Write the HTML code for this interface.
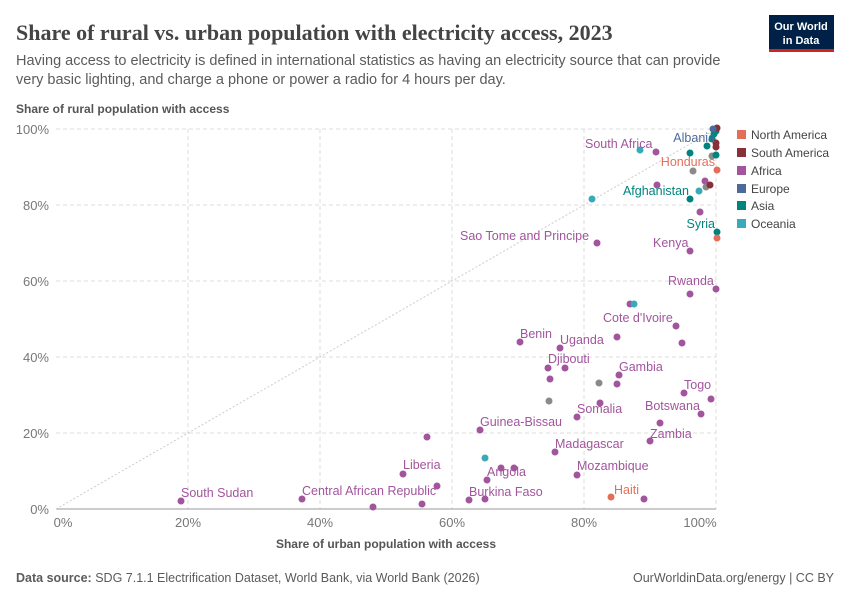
<!DOCTYPE html>
<html><head><meta charset="utf-8"><style>
body{margin:0;background:#fff;font-family:"Liberation Sans",sans-serif}
</style></head><body>
<svg width="850" height="600" xmlns="http://www.w3.org/2000/svg" font-family="Liberation Sans, sans-serif">
<rect width="850" height="600" fill="#fff"/>
<text x="16" y="40" font-family="Liberation Serif, serif" font-size="22" font-weight="bold" fill="#444">Share of rural vs. urban population with electricity access, 2023</text>
<text x="16" y="65" font-size="14.5" fill="#5b5b5b">Having access to electricity is defined in international statistics as having an electricity source that can provide</text>
<text x="16" y="84" font-size="14.5" fill="#5b5b5b">very basic lighting, and charge a phone or power a radio for 4 hours per day.</text>
<rect x="769" y="15" width="65" height="37" fill="#002147"/>
<rect x="769" y="49" width="65" height="3" fill="#ce261e"/>
<text x="801" y="30" font-size="11" font-weight="bold" fill="#fff" text-anchor="middle">Our World</text>
<text x="801" y="44" font-size="11" font-weight="bold" fill="#fff" text-anchor="middle">in Data</text>
<text x="16" y="113" font-size="12" font-weight="bold" fill="#555">Share of rural population with access</text>
<g stroke="#ddd" stroke-dasharray="4,3" stroke-width="1">
<line x1="56" y1="129" x2="716" y2="129"/><line x1="56" y1="205" x2="716" y2="205"/><line x1="56" y1="281" x2="716" y2="281"/><line x1="56" y1="357" x2="716" y2="357"/><line x1="56" y1="433" x2="716" y2="433"/>
<line x1="188" y1="129" x2="188" y2="509"/><line x1="320" y1="129" x2="320" y2="509"/><line x1="452" y1="129" x2="452" y2="509"/><line x1="584" y1="129" x2="584" y2="509"/><line x1="716" y1="129" x2="716" y2="509"/>
</g>
<line x1="56" y1="509" x2="716" y2="509" stroke="#999"/>
<line x1="56" y1="509" x2="716" y2="129" stroke="#ccc" stroke-dasharray="2,2"/>
<g font-size="13" fill="#777" text-anchor="end">
<text x="49" y="134">100%</text><text x="49" y="210">80%</text><text x="49" y="286">60%</text><text x="49" y="362">40%</text><text x="49" y="438">20%</text><text x="49" y="514">0%</text>
</g>
<g font-size="13" fill="#777" text-anchor="middle">
<text x="63" y="527">0%</text><text x="188" y="527">20%</text><text x="320" y="527">40%</text><text x="452" y="527">60%</text><text x="584" y="527">80%</text><text x="700" y="527">100%</text>
</g>
<text x="386" y="548" font-size="12" font-weight="bold" fill="#555" text-anchor="middle">Share of urban population with access</text>
<g fill="#a2559c">
<circle cx="181" cy="501" r="3.5"/><circle cx="302" cy="499" r="3.5"/><circle cx="373" cy="507" r="3.5"/><circle cx="422" cy="504" r="3.5"/><circle cx="427" cy="437" r="3.5"/><circle cx="403" cy="474" r="3.5"/><circle cx="437" cy="486" r="3.5"/><circle cx="469" cy="500" r="3.5"/><circle cx="485" cy="499" r="3.5"/><circle cx="487" cy="480" r="3.5"/><circle cx="501" cy="468" r="3.5"/><circle cx="514" cy="468" r="3.5"/><circle cx="480" cy="430" r="3.5"/><circle cx="555" cy="452" r="3.5"/><circle cx="577" cy="475" r="3.5"/><circle cx="644" cy="499" r="3.5"/><circle cx="577" cy="417" r="3.5"/><circle cx="600" cy="403" r="3.5"/><circle cx="548" cy="368" r="3.5"/><circle cx="565" cy="368" r="3.5"/><circle cx="550" cy="379" r="3.5"/><circle cx="619" cy="375" r="3.5"/><circle cx="617" cy="384" r="3.5"/><circle cx="520" cy="342" r="3.5"/><circle cx="560" cy="348" r="3.5"/><circle cx="617" cy="337" r="3.5"/><circle cx="676" cy="326" r="3.5"/><circle cx="682" cy="343" r="3.5"/><circle cx="630" cy="304" r="3.5"/><circle cx="690" cy="294" r="3.5"/><circle cx="716" cy="289" r="3.5"/><circle cx="684" cy="393" r="3.5"/><circle cx="711" cy="399" r="3.5"/><circle cx="701" cy="414" r="3.5"/><circle cx="660" cy="423" r="3.5"/><circle cx="650" cy="441" r="3.5"/><circle cx="597" cy="243" r="3.5"/><circle cx="690" cy="251" r="3.5"/><circle cx="700" cy="212" r="3.5"/><circle cx="705" cy="181" r="3.5"/><circle cx="657" cy="185" r="3.5"/><circle cx="656" cy="152" r="3.5"/>
</g>
<g fill="#8a8a8a"><circle cx="549" cy="401" r="3.5"/><circle cx="599" cy="383" r="3.5"/><circle cx="706" cy="187" r="3.5"/><circle cx="693" cy="171" r="3.5"/><circle cx="712" cy="156" r="3.5"/></g>
<g fill="#38aaba"><circle cx="485" cy="458" r="3.5"/><circle cx="634" cy="304" r="3.5"/><circle cx="699" cy="191" r="3.5"/><circle cx="592" cy="199" r="3.5"/><circle cx="640" cy="150" r="3.5"/></g>
<g fill="#00847e"><circle cx="717" cy="232" r="3.5"/><circle cx="690" cy="199" r="3.5"/><circle cx="690" cy="153" r="3.5"/><circle cx="707" cy="146" r="3.5"/><circle cx="716" cy="155" r="3.5"/><circle cx="712" cy="139" r="3.5"/><circle cx="716" cy="131" r="3.5"/><circle cx="714" cy="134" r="3.5"/></g>
<g fill="#883039"><circle cx="710" cy="185" r="3.5"/><circle cx="716" cy="147" r="3.5"/><circle cx="716" cy="143" r="3.5"/><circle cx="717" cy="128" r="3.5"/></g>
<g fill="#e56e5a"><circle cx="611" cy="497" r="3.5"/><circle cx="717" cy="238" r="3.5"/><circle cx="717" cy="170" r="3.5"/></g>
<circle cx="713" cy="129" r="3.5" fill="#4c6a9c"/>
<g font-size="12.5" fill="#a2559c">
<text x="181" y="497">South Sudan</text><text x="302" y="495">Central African Republic</text><text x="403" y="469">Liberia</text><text x="469" y="496">Burkina Faso</text><text x="487" y="476">Angola</text><text x="480" y="426">Guinea-Bissau</text><text x="555" y="448">Madagascar</text><text x="577" y="470">Mozambique</text><text x="577" y="413">Somalia</text><text x="548" y="363">Djibouti</text><text x="619" y="371">Gambia</text><text x="520" y="338">Benin</text><text x="560" y="344">Uganda</text><text x="603" y="322">Cote d'Ivoire</text><text x="668" y="285">Rwanda</text><text x="684" y="389">Togo</text><text x="645" y="410">Botswana</text><text x="650" y="438">Zambia</text><text x="460" y="240">Sao Tome and Principe</text><text x="653" y="247">Kenya</text><text x="585" y="148">South Africa</text>
</g>
<g font-size="12.5" text-anchor="end">
<text x="689" y="195" fill="#00847e">Afghanistan</text><text x="715" y="228" fill="#00847e">Syria</text><text x="715" y="166" fill="#e56e5a">Honduras</text><text x="715" y="142" fill="#4c6a9c">Albania</text><text x="639" y="494" fill="#e56e5a">Haiti</text>
</g>
<g font-size="12" fill="#444">
<rect x="737" y="130" width="9" height="9" fill="#e56e5a"/><text x="751" y="139">North America</text>
<rect x="737" y="148" width="9" height="9" fill="#883039"/><text x="751" y="157">South America</text>
<rect x="737" y="166" width="9" height="9" fill="#a2559c"/><text x="751" y="175">Africa</text>
<rect x="737" y="184" width="9" height="9" fill="#4c6a9c"/><text x="751" y="193">Europe</text>
<rect x="737" y="201" width="9" height="9" fill="#00847e"/><text x="751" y="210">Asia</text>
<rect x="737" y="219" width="9" height="9" fill="#38aaba"/><text x="751" y="228">Oceania</text>
</g>
<text x="16" y="582" font-size="12.5" fill="#5b5b5b"><tspan font-weight="bold">Data source:</tspan> SDG 7.1.1 Electrification Dataset, World Bank, via World Bank (2026)</text>
<text x="834" y="582" font-size="12.5" fill="#5b5b5b" text-anchor="end">OurWorldinData.org/energy | CC BY</text>
</svg>
</body></html>
